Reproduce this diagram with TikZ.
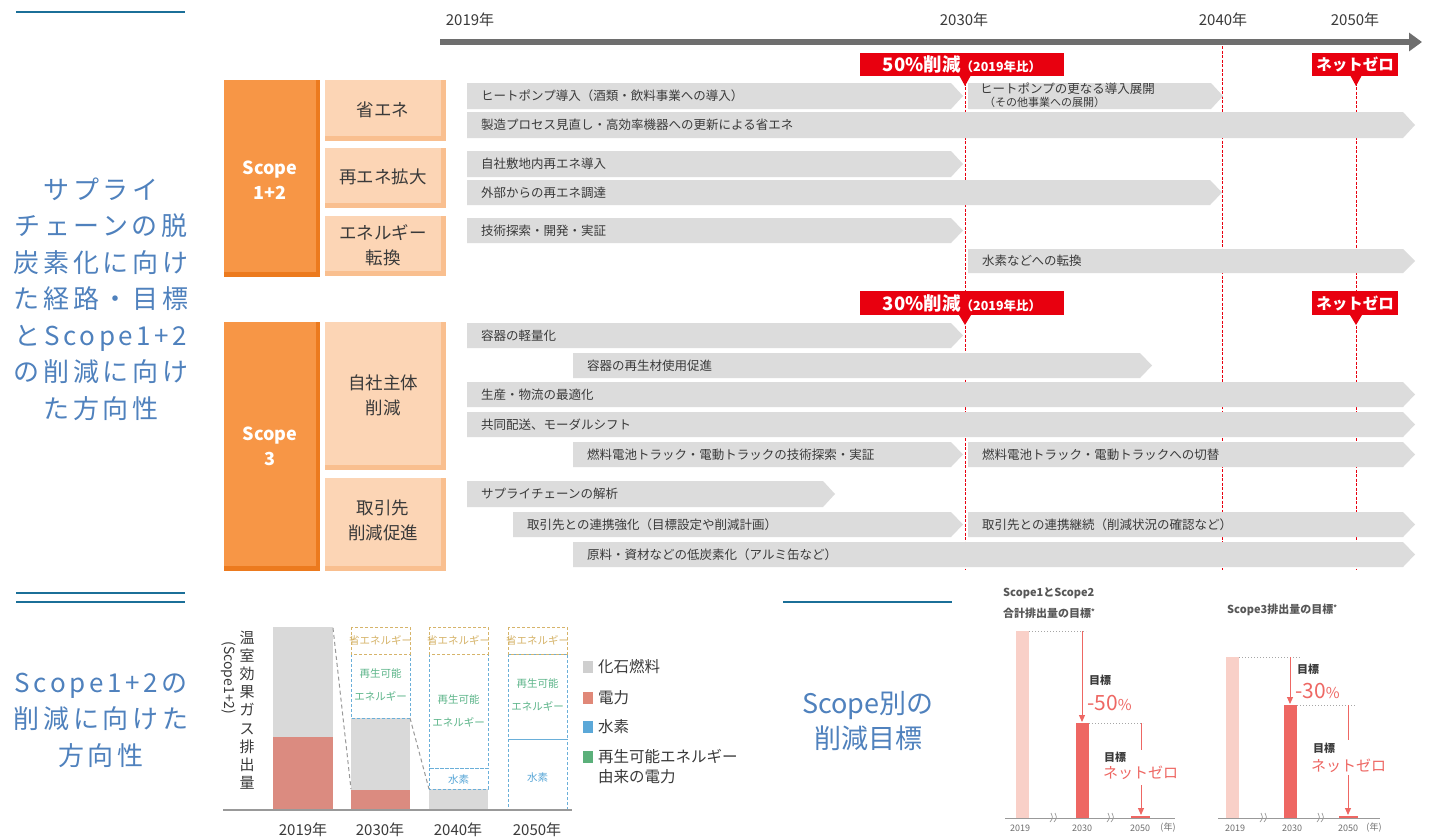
\documentclass[tikz,border=0pt]{standalone}
\usepackage{fontspec}
\setmainfont{Noto Sans CJK JP}
\newfontfamily\jp{Noto Sans CJK JP}
\newfontfamily\jpwide[LetterSpace=14]{Noto Sans CJK JP}
\usetikzlibrary{arrows.meta}
\definecolor{tealline}{HTML}{1B6F98}
\definecolor{blueT}{HTML}{4F81BD}
\definecolor{orangeA}{HTML}{F79646}
\definecolor{orangeD}{HTML}{EC7A1E}
\definecolor{peach}{HTML}{FCD5B5}
\definecolor{peachD}{HTML}{F9BF8F}
\definecolor{barg}{HTML}{DCDCDC}
\definecolor{txt}{HTML}{3A3A3A}
\definecolor{redm}{HTML}{E8000F}
\definecolor{axisg}{HTML}{6E6E6E}
\definecolor{chgray}{HTML}{D9D9D9}
\definecolor{salmon}{HTML}{DB8B80}
\definecolor{tan}{HTML}{D6B46A}
\definecolor{greenT}{HTML}{5DB58A}
\definecolor{blueD}{HTML}{6AAFD9}
\definecolor{coral}{HTML}{EE6763}
\definecolor{pinkL}{HTML}{F9D0C8}
\definecolor{legG}{HTML}{CFCFCF}
\definecolor{legR}{HTML}{E08878}
\definecolor{legB}{HTML}{5BA8D8}
\definecolor{legGr}{HTML}{5BB07A}
\newcommand\gbar[6]{%
  \fill[barg] (#2,#3) -- ({#4-12},#3) -- (#4,{(#3+#5)/2}) -- ({#4-12},#5) -- (#2,#5) -- cycle;
  \node[bartext] (#1) at ({#2+14},{(#3+#5)/2}) {#6};}
\newcommand\obox[5]{% name x1 y1 x2 y2 : orange scope box
  \fill[orangeD] (#2,#3) rectangle (#4,#5);
  \fill[orangeA] (#2,#3) rectangle ({#4-4},{#5-5});}
\newcommand\pbox[5]{%
  \fill[peachD] (#2,#3) rectangle (#4,#5);
  \fill[peach] (#2,#3) rectangle ({#4-5},{#5-5});}
\newcommand\brk[2]{%
  \draw[gray!80, line width=0.7pt] ({#1-3},{#2+4}) .. controls ({#1},{#2}) .. ({#1-2},{#2-5});
  \draw[gray!80, line width=0.7pt] ({#1+1},{#2+4}) .. controls ({#1+4},{#2}) .. ({#1+2},{#2-5});}
\tikzset{
  bartext/.style={anchor=west, text=txt, inner sep=0pt, font=\jp\fontsize{12.5}{14}\selectfont},
  lefttext/.style={text=blueT, align=center, inner sep=0pt, font=\jpwide\fontsize{26}{36.5}\selectfont},
  yeartext/.style={text=txt, inner sep=0pt, font=\jp\fontsize{15}{16}\selectfont},
  reddash/.style={draw=redm, line width=0.8pt, dash pattern=on 3pt off 1.5pt},
  redbox/.style={fill=redm, text=white, inner sep=0pt, font=\jp\bfseries},
  scopetext/.style={text=white, align=center, inner sep=0pt, font=\jp\bfseries\fontsize{18}{25}\selectfont},
  subtext/.style={text=txt, align=center, inner sep=0pt, font=\jp\fontsize{17.5}{25}\selectfont},
  chtext/.style={inner sep=0pt, align=center, font=\jp\fontsize{10.5}{23}\selectfont},
  legtext/.style={anchor=west, text=txt, inner sep=0pt, font=\jp\fontsize{15.5}{20}\selectfont},
  smalllab/.style={text=axisg, inner sep=0pt, font=\jp\fontsize{9}{10}\selectfont},
  ttl/.style={anchor=west, text=txt!85, inner sep=0pt, font=\jp\bfseries\fontsize{11}{13}\selectfont},
  dotl/.style={draw=gray!70, line width=0.9pt, dash pattern=on 1pt off 2pt},
  carrow/.style={draw=coral, line width=1pt},
}
\begin{document}
\begin{tikzpicture}[x=1pt,y=-1pt]
\useasboundingbox (0,0) rectangle (1442,839);
\fill[white] (0,0) rectangle (1442,839);

% ---------------- left captions
\draw[tealline, line width=2.6pt] (16,12) -- (185,12);
\draw[tealline, line width=2.6pt] (16,593) -- (185,593);
\draw[tealline, line width=2.6pt] (16,602) -- (185,602);
\node[lefttext] (cap1) at (101,299) {サプライ\\チェーンの脱\\炭素化に向け\\た経路・目標\\とScope1+2\\の削減に向け\\た方向性};
\node[lefttext] (cap2) at (101,720) {Scope1+2の\\削減に向けた\\方向性};

% ---------------- timeline
\coordinate (ax0) at (440,42);
\coordinate (ax1) at (1422,42);
\draw[axisg, line width=6pt, -{Triangle[length=13pt,width=18pt]}] (ax0) -- (ax1);
\node[yeartext] (y19) at (470,20) {2019年};
\node[yeartext] (y30) at (964,20) {2030年};
\node[yeartext] (y40) at (1223,20) {2040年};
\node[yeartext] (y50) at (1355,20) {2050年};

\draw[reddash] (965,60) -- (965,570);
\draw[reddash] (1222,46) -- (1222,570);
\draw[reddash] (1356,60) -- (1356,570);

% ---------------- scope boxes
\obox{s12}{224}{80}{320}{277}
\node[scopetext] (s12t) at (270,180) {Scope\\1+2};
\pbox{p1}{325}{80}{446}{141}
\node[subtext] (p1t) at (383,110) {省エネ};
\pbox{p2}{325}{148}{446}{208}
\node[subtext] (p2t) at (383,177) {再エネ拡大};
\pbox{p3}{325}{216}{446}{276}
\node[subtext] (p3t) at (383,245) {エネルギー\\転換};

\obox{s3}{224}{322}{320}{571}
\node[scopetext] (s3t) at (270,446) {Scope\\3};
\pbox{p4}{325}{322}{446}{470}
\node[subtext] (p4t) at (383,395) {自社主体\\削減};
\pbox{p5}{325}{478}{446}{571}
\node[subtext] (p5t) at (383,520) {取引先\\削減促進};

% ---------------- bars scope 1+2
\gbar{b1}{467}{83}{963}{109}{ヒートポンプ導入（酒類・飲料事業への導入）}
\fill[barg] (968,83) -- (1211,83) -- (1223,96) -- (1211,109) -- (968,109) -- cycle;
\node[bartext, anchor=north west, font=\jp\fontsize{12.5}{12}\selectfont] (b1b) at (980,83) {ヒートポンプの更なる導入展開};
\node[bartext, anchor=north west, font=\jp\fontsize{11}{11}\selectfont] (b1c) at (984,97) {（その他事業への展開）};
\gbar{b2}{467}{112}{1415}{138}{製造プロセス見直し・高効率機器への更新による省エネ}
\gbar{b3}{467}{151}{963}{177}{自社敷地内再エネ導入}
\gbar{b4}{467}{180}{1222}{205}{外部からの再エネ調達}
\gbar{b5}{467}{218}{963}{243}{技術探索・開発・実証}
\gbar{b6}{968}{249}{1415}{273}{水素などへの転換}

% ---------------- bars scope 3
\gbar{c1}{467}{323}{963}{348}{容器の軽量化}
\gbar{c2}{573}{353}{1152}{378}{容器の再生材使用促進}
\gbar{c3}{467}{382}{1415}{407}{生産・物流の最適化}
\gbar{c4}{467}{412}{1415}{437}{共同配送、モーダルシフト}
\gbar{c5}{573}{442}{963}{467}{燃料電池トラック・電動トラックの技術探索・実証}
\gbar{c6}{968}{442}{1415}{467}{燃料電池トラック・電動トラックへの切替}
\gbar{c7}{467}{481}{835}{507}{サプライチェーンの解析}
\gbar{c8}{513}{512}{963}{537}{取引先との連携強化（目標設定や削減計画）}
\gbar{c9}{968}{512}{1415}{537}{取引先との連携継続（削減状況の確認など）}
\gbar{c10}{573}{542}{1415}{567}{原料・資材などの低炭素化（アルミ缶など）}

% ---------------- red markers
\node[redbox, minimum width=204pt, minimum height=23pt] (m50) at (962,64) {\fontsize{18.5}{18}\selectfont 50\%削減\fontsize{12.5}{12}\selectfont（2019年比）};
\fill[redm] (959,75) -- (971,75) -- (965,86) -- cycle;
\node[redbox, minimum width=86pt, minimum height=23pt] (mnz1) at (1355,64) {\fontsize{15.5}{15}\selectfont ネットゼロ};
\fill[redm] (1350,75) -- (1362,75) -- (1356,86) -- cycle;
\node[redbox, minimum width=204pt, minimum height=24pt] (m30) at (962,303) {\fontsize{18.5}{18}\selectfont 30\%削減\fontsize{12.5}{12}\selectfont（2019年比）};
\fill[redm] (959,315) -- (971,315) -- (965,325) -- cycle;
\node[redbox, minimum width=86pt, minimum height=24pt] (mnz2) at (1355,303) {\fontsize{15.5}{15}\selectfont ネットゼロ};
\fill[redm] (1350,315) -- (1362,315) -- (1356,325) -- cycle;

% ---------------- bottom-left chart
\node[inner sep=0pt, align=center, text=txt, font=\jp\fontsize{15}{18.2}\selectfont] (vlab) at (247,710) {温\\室\\効\\果\\ガ\\ス\\排\\出\\量};
\node[inner sep=0pt, rotate=-90, text=txt, font=\jp\fontsize{14}{14}\selectfont] (vlab2) at (229,678) {(Scope1+2)};
% bars
\fill[chgray] (273,627) rectangle (333,810);
\fill[salmon] (273,737) rectangle (333,810);
\fill[chgray] (351,718) rectangle (410,810);
\fill[salmon] (351,790) rectangle (410,810);
\fill[chgray] (429,789) rectangle (488,810);
% dashed boxes
\draw[blueD, line width=1pt, dash pattern=on 3pt off 2pt] (351,654) rectangle (410,718);
\draw[tan, line width=1pt, dash pattern=on 3pt off 2pt] (351,627) rectangle (410,654);
\draw[blueD, line width=1pt, dash pattern=on 3pt off 2pt] (429,654) rectangle (488,768);
\draw[blueD, line width=1pt, dash pattern=on 3pt off 2pt] (429,768) rectangle (488,789);
\draw[tan, line width=1pt, dash pattern=on 3pt off 2pt] (429,627) rectangle (488,654);
\draw[blueD, line width=1pt, dash pattern=on 3pt off 2pt] (508,654) rectangle (567,739);
\draw[blueD, line width=1pt, dash pattern=on 3pt off 2pt] (508,739) rectangle (567,810);
\draw[tan, line width=1pt, dash pattern=on 3pt off 2pt] (508,627) rectangle (567,654);
\node[chtext, text=tan] (se1) at (380.5,640) {省エネルギー};
\node[chtext, text=tan] (se2) at (458.5,640) {省エネルギー};
\node[chtext, text=tan] (se3) at (537.5,640) {省エネルギー};
\node[chtext, text=greenT] (re1) at (380.5,685) {再生可能\\エネルギー};
\node[chtext, text=greenT] (re2) at (458.5,711) {再生可能\\エネルギー};
\node[chtext, text=greenT] (re3) at (537.5,695) {再生可能\\エネルギー};
\node[chtext, text=legB] (h1) at (458.5,779) {水素};
\node[chtext, text=legB] (h2) at (537.5,777) {水素};
\draw[gray!80, line width=1pt, dash pattern=on 4pt off 3pt] (333,628) -- (351,789);
\draw[gray!80, line width=1pt, dash pattern=on 4pt off 3pt] (410,718) -- (429,789);
\draw[gray!80, line width=1.2pt] (223,810) -- (572,810);
\node[yeartext, font=\jp\fontsize{15}{16}\selectfont] (x19) at (303,830) {2019年};
\node[yeartext, font=\jp\fontsize{15}{16}\selectfont] (x30) at (380,830) {2030年};
\node[yeartext, font=\jp\fontsize{15}{16}\selectfont] (x40) at (458,830) {2040年};
\node[yeartext, font=\jp\fontsize{15}{16}\selectfont] (x50) at (537,830) {2050年};
% legend
\fill[legG] (583,661) rectangle (593,673);
\node[legtext] (l1) at (598,667) {化石燃料};
\fill[legR] (583,692) rectangle (593,704);
\node[legtext] (l2) at (598,698) {電力};
\fill[legB] (583,721) rectangle (593,733);
\node[legtext] (l3) at (598,727) {水素};
\fill[legGr] (583,751) rectangle (593,763);
\node[legtext] (l4) at (598,757) {再生可能エネルギー};
\node[legtext] (l5) at (598,777) {由来の電力};

% ---------------- Scope別
\draw[tealline, line width=2.6pt] (783,602) -- (952,602);
\node[inner sep=0pt, align=center, text=blueT, font=\jp\fontsize{27}{35}\selectfont] (sb) at (868,721) {Scope別の\\削減目標};

% ---------------- chart 1
\node[ttl] (tt1) at (1003,593) {Scope1とScope2};
\node[ttl] (tt2) at (1003,613) {合計排出量の目標\raisebox{3pt}{\fontsize{7}{7}\selectfont *}};
\fill[pinkL] (1016,631) rectangle (1029,818);
\fill[coral] (1076,723) rectangle (1089,818);
\fill[coral] (1131,816) rectangle (1150,818);
\draw[dotl] (1029,631) -- (1086,631);
\draw[dotl] (1089,723) -- (1143,723);
\coordinate (a1s) at (1082,631); \coordinate (a1e) at (1082,722);
\draw[carrow, -{Triangle[length=7pt,width=6pt]}] (a1s) -- (a1e);
\draw[carrow] (1141,723) -- (1141,750);
\coordinate (a2s) at (1141,785); \coordinate (a2e) at (1141,815);
\draw[carrow, -{Triangle[length=7pt,width=6pt]}] (a2s) -- (a2e);
\node[anchor=west, inner sep=0pt, font=\jp\bfseries\fontsize{11}{11}\selectfont, text=txt] (g1) at (1089,680) {目標};
\node[anchor=west, inner sep=0pt, font=\jp\fontsize{21}{21}\selectfont, text=coral] (g2) at (1087,703) {-50{\fontsize{15}{15}\selectfont\%}};
\node[anchor=west, inner sep=0pt, font=\jp\bfseries\fontsize{11}{11}\selectfont, text=txt] (g3) at (1104,757) {目標};
\node[anchor=west, inner sep=0pt, font=\jp\fontsize{15}{15}\selectfont, text=coral] (g4) at (1103,773) {ネットゼロ};
\draw[gray!80, line width=1pt] (1005,818) -- (1175,818);
\brk{1053}{818}
\brk{1110}{818}
\node[smalllab] (k1) at (1020,828) {2019};
\node[smalllab] (k2) at (1082,828) {2030};
\node[smalllab] (k3) at (1140,828) {2050};
\node[smalllab] (k4) at (1168,828) {(年)};

% ---------------- chart 2
\node[ttl] (tt3) at (1227,610) {Scope3排出量の目標\raisebox{3pt}{\fontsize{7}{7}\selectfont *}};
\fill[pinkL] (1226,657) rectangle (1239,818);
\fill[coral] (1284,705) rectangle (1297,818);
\fill[coral] (1339,816) rectangle (1358,818);
\draw[dotl] (1239,657) -- (1300,657);
\draw[dotl] (1297,705) -- (1355,705);
\coordinate (a3s) at (1290,657); \coordinate (a3e) at (1290,704);
\draw[carrow, -{Triangle[length=7pt,width=6pt]}] (a3s) -- (a3e);
\draw[carrow] (1348,705) -- (1348,740);
\coordinate (a4s) at (1348,775); \coordinate (a4e) at (1348,815);
\draw[carrow, -{Triangle[length=7pt,width=6pt]}] (a4s) -- (a4e);
\node[anchor=west, inner sep=0pt, font=\jp\bfseries\fontsize{11}{11}\selectfont, text=txt] (g5) at (1297,669) {目標};
\node[anchor=west, inner sep=0pt, font=\jp\fontsize{21}{21}\selectfont, text=coral] (g6) at (1295,691) {-30{\fontsize{15}{15}\selectfont\%}};
\node[anchor=west, inner sep=0pt, font=\jp\bfseries\fontsize{11}{11}\selectfont, text=txt] (g7) at (1313,748) {目標};
\node[anchor=west, inner sep=0pt, font=\jp\fontsize{15}{15}\selectfont, text=coral] (g8) at (1311,766) {ネットゼロ};
\draw[gray!80, line width=1pt] (1218,818) -- (1380,818);
\brk{1263}{818}
\brk{1320}{818}
\node[smalllab] (k5) at (1235,828) {2019};
\node[smalllab] (k6) at (1292,828) {2030};
\node[smalllab] (k7) at (1348,828) {2050};
\node[smalllab] (k8) at (1374,828) {(年)};
\end{tikzpicture}
\end{document}
